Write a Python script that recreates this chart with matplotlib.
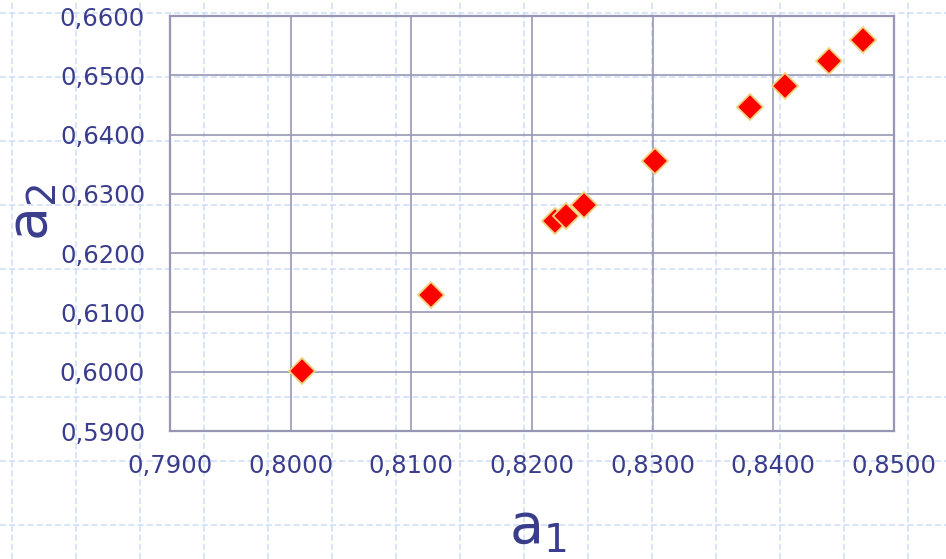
import matplotlib
matplotlib.use("Agg")
import matplotlib.pyplot as plt
from matplotlib.ticker import FuncFormatter, MultipleLocator
import numpy as np

# measured coefficients
a1 = [0.8009, 0.8116, 0.8219, 0.8228, 0.8243, 0.8302, 0.8381, 0.8410, 0.8446, 0.8474]
a2 = [0.6001, 0.6129, 0.6254, 0.6263, 0.6281, 0.6355, 0.6447, 0.6482, 0.6524, 0.6559]

x_range = (0.79, 0.85)
y_range = (0.59, 0.66)
step = 0.01

W, H = 946, 559
navy = '#3A3D8C'
grid_col = '#9797B5'
paper_col = '#CFDCF7'

plt.rcParams['font.family'] = ['DejaVu Sans']
plt.rcParams['mathtext.fontset'] = 'dejavusans'

fig = plt.figure(figsize=(W / 100, H / 100), dpi=100)
fig.patch.set_facecolor('white')

def px(x, y):
    # pixel position (top-left origin) -> figure fraction
    return x / W, 1 - y / H

# dashed "paper" grid behind everything
bg = fig.add_axes([0, 0, 1, 1], zorder=0)
bg.set_xlim(0, W)
bg.set_ylim(H, 0)
bg.axis('off')
for gx in np.arange(12, W, 64):
    bg.axvline(gx, color=paper_col, lw=1.1, dashes=(4, 2))
for gy in np.arange(13, H, 64):
    bg.axhline(gy, color=paper_col, lw=1.1, dashes=(4, 2))

l, t = px(170, 16)
r, b = px(894, 431)
ax = fig.add_axes([l, b, r - l, t - b], zorder=1)
ax.patch.set_alpha(0)

ax.plot(a1, a2, linestyle='none', marker='D', markersize=13,
        markerfacecolor='#FF0000', markeredgecolor='#EFD27E',
        markeredgewidth=1.3, zorder=3)

ax.set_xlim(*x_range)
ax.set_ylim(*y_range)
ax.xaxis.set_major_locator(MultipleLocator(step))
ax.yaxis.set_major_locator(MultipleLocator(step))
fmt = FuncFormatter(lambda v, pos: f"{v:.4f}".replace('.', ','))
ax.xaxis.set_major_formatter(fmt)
ax.yaxis.set_major_formatter(fmt)

ax.grid(True, color=grid_col, lw=1.2)
ax.set_axisbelow(True)
for s in ax.spines.values():
    s.set_color(grid_col)
    s.set_linewidth(1.6)

ax.tick_params(axis='both', length=0, labelsize=17.5, labelcolor=navy)
ax.tick_params(axis='x', pad=16.5)
ax.tick_params(axis='y', pad=18)

# axis labels with subscripts
fig.text(*px(509, 543), r'$\mathregular{a_1}$', fontsize=40, color=navy,
         ha='left', va='baseline')
fig.text(*px(47, 241), r'$\mathregular{a_2}$', fontsize=40, color=navy,
         rotation=90, rotation_mode='anchor', ha='left', va='baseline')

fig.savefig('out.png', dpi=100)
